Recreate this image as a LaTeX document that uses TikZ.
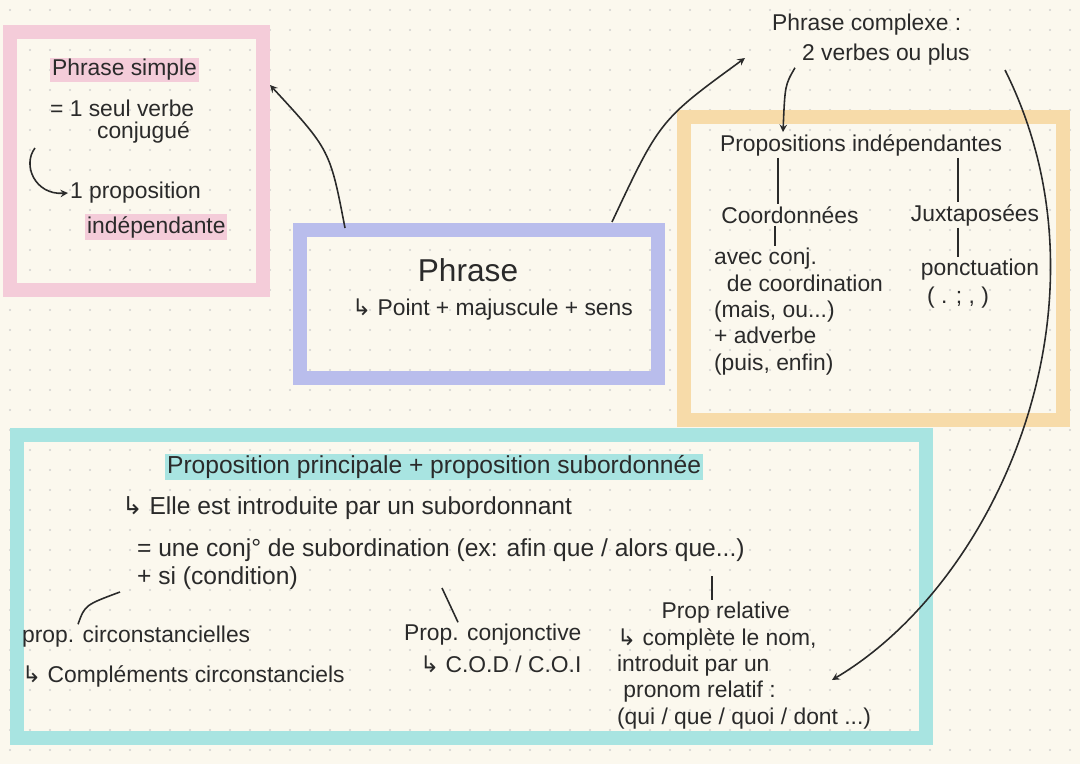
\documentclass[tikz,border=0pt]{standalone}
\usepackage{fontspec}
\setmainfont{Liberation Sans}
\newfontfamily\dejavu{DejaVu Sans}
\newcommand{\hk}{{\dejavu ↳}}
\usetikzlibrary{positioning}
\definecolor{paper}{HTML}{FBF8EE}
\definecolor{pinkb}{HTML}{F4CCD9}
\definecolor{blueb}{HTML}{B9BDEC}
\definecolor{orangeb}{HTML}{F7DBA9}
\definecolor{tealb}{HTML}{A8E4E1}
\definecolor{ink}{HTML}{2A2A2A}
\tikzset{
  txt/.style={text=ink,font=\fontsize{13}{15}\selectfont,inner sep=1pt},
  big/.style={txt,font=\fontsize{14}{16}\selectfont},
  hl/.style={txt,fill=#1},
  frame/.style={line width=8pt,draw=#1},
  arr/.style={->,>=stealth,ink,line width=0.9pt},
  ln/.style={ink,line width=0.9pt}
}
\begin{document}
\begin{tikzpicture}[x=0.02cm,y=-0.02cm]
\fill[paper] (0,0) rectangle (1080,764);
\useasboundingbox (0,0) rectangle (1080,764);
%DOTS
\foreach \i in {0,...,53}{\foreach \j in {0,...,37}{
  \fill[black!18] (\i*20+10,\j*20+10) circle (0.7pt);}}
%FRAMES
\draw[frame=pinkb] (10,32) rectangle (263,290);
\draw[frame=blueb] (300,230) rectangle (658,378);
\draw[frame=orangeb] (684,117) rectangle (1063,420);
\draw[frame=tealb] (17,435) rectangle (926,738);

%NODE
\node[hl=pinkb,anchor=west] (simple) at (50,70) {Phrase simple};
\node[txt,anchor=west] (seul) at (48,108) {= 1 seul verbe};
\node[txt,anchor=west] (conj) at (95,132) {conjugué};
\node[txt,anchor=west] (prop1) at (68,193) {1 proposition};
\node[hl=pinkb,anchor=west] (indep) at (85,227) {indépendante};
\node[txt,font=\fontsize{18}{20}\selectfont] (phrase) at (468,270) {Phrase};
\node[txt,anchor=west] (sens) at (350,310) {\hk\ Point + majuscule + sens};
\node[txt,anchor=west] (complexe) at (770,25) {Phrase complexe :};
\node[txt,anchor=west] (verbes) at (800,55) {2 verbes ou plus};
\node[txt,anchor=west] (pind) at (718,145) {Propositions indépendantes};
\node[txt] (coord) at (790,215) {Coordonnées};
\node[txt] (juxta) at (975,215) {Juxtaposées};
\node[txt,align=left,anchor=north west] (avec) at (712,246)
  {avec conj.\\ \ \ de coordination\\(mais, ou...)\\+ adverbe\\(puis, enfin)};
\node[txt] (ponct) at (980,270) {ponctuation};
\node[txt] (signes) at (958,298) {( . ; , )};
\node[hl=tealb,anchor=west,font=\fontsize{14}{16}\selectfont] (princ) at (165,467) {Proposition principale + proposition subordonnée};
\node[big,anchor=west] (intro) at (120,508) {\hk\ Elle est introduite par un subordonnant};
\node[big,anchor=west] (egal) at (135,550) {= une conj° de subordination (ex: afin que / alors que...)};
\node[big,anchor=west] (si) at (135,578) {+ si (condition)};
\node[txt,anchor=west] (circ) at (20,637) {prop. circonstancielles};
\node[txt,anchor=west] (compl) at (20,676) {\hk\ Compléments circonstanciels};
\node[txt,anchor=west] (conjonc) at (402,635) {Prop. conjonctive};
\node[txt,anchor=west] (cod) at (418,664) {\hk\ C.O.D / C.O.I};
\node[txt,align=left,anchor=north west] (relat) at (615,600)
  {\ \ \ \ \ \ \ Prop relative\\\hk\ complète le nom,\\introduit par un\\\ pronom relatif :\\(qui / que / quoi / dont ...)};
\coordinate (qui) at (832,680);
\coordinate (hook) at (35,148);
\coordinate (sia) at (120,592);
\coordinate (ca) at (442,588);
\coordinate (ra) at (712,576);
\coordinate (pa) at (345,228);
\coordinate (pb) at (612,222);
\coordinate (va) at (1005,70);

%EDGE
\draw[arr] (pa) .. controls (330,150) .. (270,85);
\draw[arr] (pb) .. controls (660,120) .. (745,58);
\draw[arr] (verbes.south west) ++(-5,0) .. controls (785,85) .. (pind.north -| 783,0);
\draw[arr] (va) .. controls (1120,300) and (1000,580) .. (qui);
\draw[arr] (hook) .. controls (22,165) and (35,195) .. (prop1.west);
\draw[ln] (pind.south -| 778,0) -- (coord.north -| 778,0);
\draw[ln] (pind.south -| 958,0) -- (juxta.north -| 958,0);
\draw[ln] (coord.south -| 775,0) -- (avec.north -| 775,0);
\draw[ln] (juxta.south -| 958,0) -- (ponct.north -| 958,0);
\draw[ln] (sia) .. controls (85,605) .. (circ.north -| 78,0);
\draw[ln] (ca) -- (conjonc.north -| 458,0);
\draw[ln] (ra) -- (relat.north -| 712,0);
\end{tikzpicture}
\end{document}
